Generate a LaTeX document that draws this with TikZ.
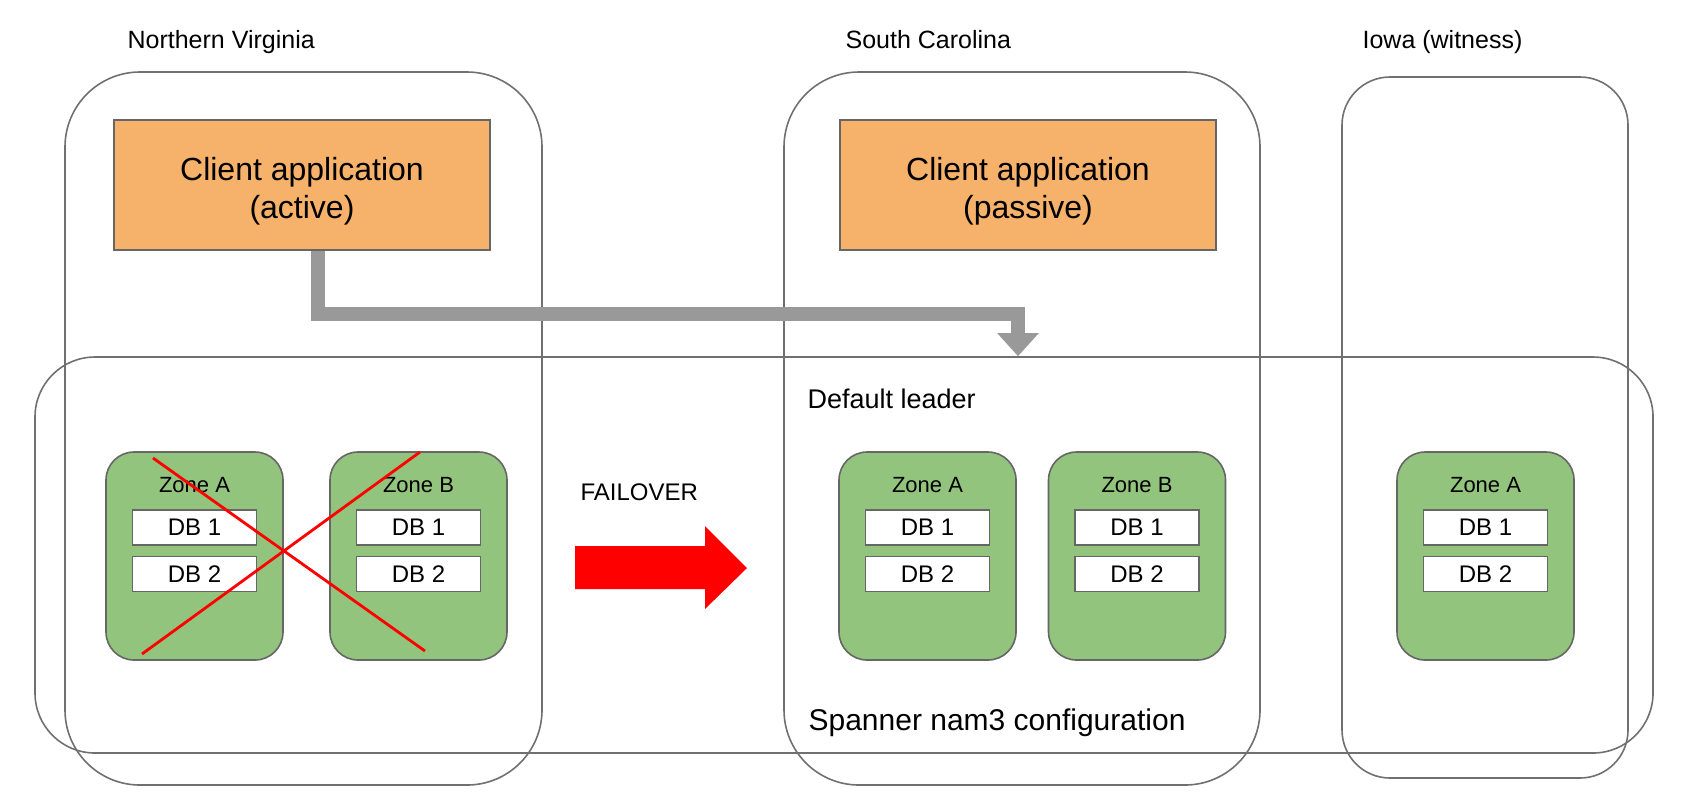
\documentclass[tikz,border=0pt]{standalone}
\usepackage{fontspec}
\setmainfont{Liberation Sans}
\usetikzlibrary{arrows.meta,positioning,fit}

\definecolor{appfill}{HTML}{F6B26B}
\definecolor{zonefill}{HTML}{93C47D}
\definecolor{boxline}{HTML}{666666}
\definecolor{regionline}{HTML}{707070}
\definecolor{feedgray}{HTML}{999999}

\begin{document}
\begin{tikzpicture}[x=0.5pt,y=-0.5pt,semithick]
  \tikzstyle{region}=[draw=regionline,line width=0.8pt,inner sep=0pt,rounded corners=37.5pt]
  \tikzstyle{app}=[draw=boxline,fill=appfill,line width=0.8pt,minimum width=188pt,minimum height=65pt,align=center,text height=37pt,font=\fontsize{16}{19}\selectfont]
  \tikzstyle{zone}=[draw=boxline,fill=zonefill,line width=0.8pt,rounded corners=14pt,minimum width=88.5pt,minimum height=104pt]
  \tikzstyle{zonelbl}=[inner sep=0pt,text height=7.9pt,text depth=0pt,font=\fontsize{11}{13}\selectfont]
  \tikzstyle{db}=[draw=boxline,fill=white,line width=0.8pt,minimum width=62pt,minimum height=17.5pt,inner sep=0pt,font=\fontsize{12}{14}\selectfont]
  \tikzstyle{regionlbl}=[anchor=base west,inner sep=0pt,font=\fontsize{12.5}{15}\selectfont]
  \tikzstyle{note}=[anchor=base west,inner sep=0pt]

  \useasboundingbox (0,0) rectangle (1700,800);

  % regions and the spanner instance
  \node[region,fit={(65,72) (542,785)}]                      (nova)    {};
  \node[region,fit={(784,72) (1260,785)}]                    (scar)    {};
  \node[region,rounded corners=24pt,fit={(1342,77) (1628,778)}] (iowa) {};
  \node[region,rounded corners=30pt,fit={(35,357) (1653,753)}]  (spanner) {};

  \node[regionlbl] (lblnova) at (127,48)  {Northern Virginia};
  \node[regionlbl] (lblscar) at (845,48)  {South Carolina};
  \node[regionlbl] (lbliowa) at (1362,48) {Iowa (witness)};

  \node[app] (cact) at (302,185)  {Client application\\(active)};
  \node[app] (cpas) at (1028,185) {Client application\\(passive)};

  % zones
  \node[zone] (nvA) at (194.5,556) {};
  \node[zonelbl,below=12.5pt of nvA.north] (nvAl) {Zone A};
  \node[db,below=29pt of nvA.north]        (nvA1) {DB 1};
  \node[db,below=5pt of nvA1]              (nvA2) {DB 2};

  \node[zone] (nvB) at (418.5,556) {};
  \node[zonelbl,below=12.5pt of nvB.north] (nvBl) {Zone B};
  \node[db,below=29pt of nvB.north]        (nvB1) {DB 1};
  \node[db,below=5pt of nvB1]              (nvB2) {DB 2};

  \node[zone] (scA) at (927.5,556) {};
  \node[zonelbl,below=12.5pt of scA.north] (scAl) {Zone A};
  \node[db,below=29pt of scA.north]        (scA1) {DB 1};
  \node[db,below=5pt of scA1]              (scA2) {DB 2};

  \node[zone] (scB) at (1137,556) {};
  \node[zonelbl,below=12.5pt of scB.north] (scBl) {Zone B};
  \node[db,below=29pt of scB.north]        (scB1) {DB 1};
  \node[db,below=5pt of scB1]              (scB2) {DB 2};

  \node[zone] (iaA) at (1485.5,556) {};
  \node[zonelbl,below=12.5pt of iaA.north] (iaAl) {Zone A};
  \node[db,below=29pt of iaA.north]        (iaA1) {DB 1};
  \node[db,below=5pt of iaA1]              (iaA2) {DB 2};

  \node[note,font=\fontsize{13.5}{16}\selectfont] (leader) at (807,408) {Default leader};
  \node[note,font=\fontsize{12}{14}\selectfont]   (fail)   at (580,500) {FAILOVER};
  \node[note,font=\fontsize{15}{18}\selectfont]   (conf)   at (808,730) {Spanner nam3 configuration};

  % lost region
  \draw[red,line width=1.4pt] (153,458) -- (425,651) (420,452) -- (142,654);

  \fill[red] (575,546) -- (705,546) -- (705,526) -- (747,568) -- (705,609)
             -- (705,589) -- (575,589) -- cycle;

  % traffic to the leader
  \coordinate (bend) at (1018,314);
  \draw[feedgray,line width=7pt,-{Triangle[width=20pt,length=11.5pt]}]
       ([xshift=8pt]cact.south) |- (bend) -- (bend |- spanner.north);
\end{tikzpicture}
\end{document}
